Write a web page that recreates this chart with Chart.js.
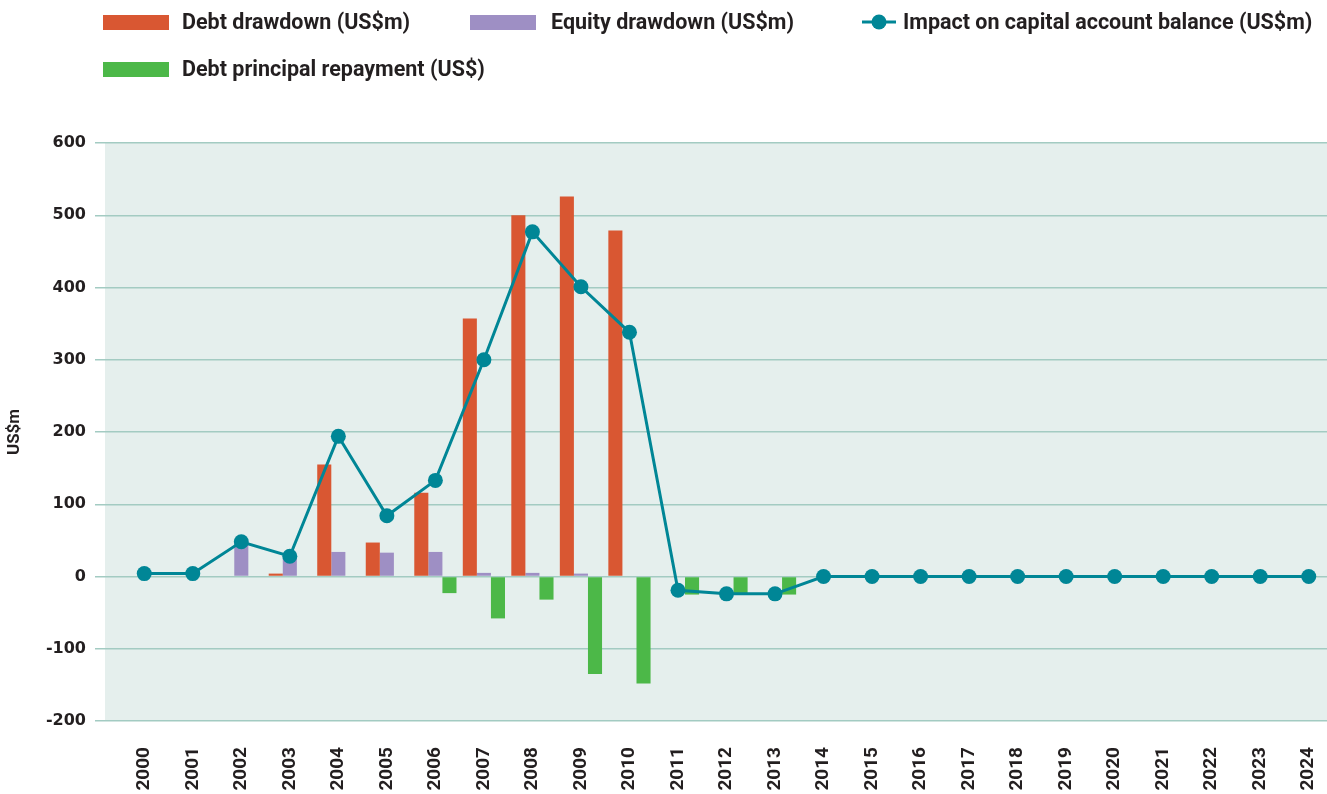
<!DOCTYPE html>
<html lang="en">
<head>
  <meta charset="UTF-8" />
  <title>Capital account impact</title>
  <script src="https://cdn.jsdelivr.net/npm/chart.js"></script>
  <style>
    html, body {
      margin: 0;
      padding: 0;
      overflow: hidden;
      background: #ffffff;
    }
    .wrap {
      position: relative;
      width: 1334px;
      height: 794px;
    }
    canvas {
      position: absolute;
      left: 0;
      top: 0;
    }
    .legend-item {
      position: absolute;
      font-family: Roboto, "Open Sans", sans-serif;
      font-weight: bold;
      font-size: 21.5px;
      color: #231f20;
      line-height: 24px;
      white-space: nowrap;
    }
    .swatch {
      position: absolute;
      width: 66px;
      height: 15px;
    }
  </style>
</head>
<body>
  <div class="wrap">
    <canvas id="capitalChart" width="1334" height="794"></canvas>

    <div class="swatch" style="left:103px; top:15px; background:#d95732;"></div>
    <div class="legend-item" style="left:182px; top:10px;">Debt drawdown (US$m)</div>

    <div class="swatch" style="left:470px; top:15px; background:#9e8fc4;"></div>
    <div class="legend-item" style="left:551px; top:10px;">Equity drawdown (US$m)</div>

    <svg style="position:absolute; left:861px; top:12px;" width="36" height="20">
      <line x1="1" y1="10" x2="35" y2="10" stroke="#008696" stroke-width="3" />
      <circle cx="18" cy="10" r="7.5" fill="#008696" />
    </svg>
    <div class="legend-item" style="left:903px; top:10px;">Impact on capital account balance (US$m)</div>

    <div class="swatch" style="left:103px; top:62px; background:#4cb848;"></div>
    <div class="legend-item" style="left:182px; top:57px;">Debt principal repayment (US$)</div>
  </div>

  <script>
    const years = ['2000', '2001', '2002', '2003', '2004', '2005', '2006', '2007', '2008', '2009', '2010', '2011', '2012',
                   '2013', '2014', '2015', '2016', '2017', '2018', '2019', '2020', '2021', '2022', '2023', '2024'];
    const debtDrawdown   = [0, 0, 0, 4, 155, 47, 116, 357, 500, 526, 479, 0, 0, 0, 0, 0, 0, 0, 0, 0, 0, 0, 0, 0, 0];
    const equityDrawdown = [0, 0, 47, 26, 34, 33, 34, 5, 5, 4, 0, 0, 0, 0, 0, 0, 0, 0, 0, 0, 0, 0, 0, 0, 0];
    const debtRepayment  = [0, 0, 0, 0, 0, 0, -23, -58, -32, -135, -148, -25, -25, -25, 0, 0, 0, 0, 0, 0, 0, 0, 0, 0, 0];
    const capitalImpact  = [4, 4, 48, 28, 194, 84, 133, 300, 477, 401, 338, -19, -24, -24, 0, 0, 0, 0, 0, 0, 0, 0, 0, 0, 0];
    const yTicks = [-200, -100, 0, 100, 200, 300, 400, 500, 600];

    // shaded plot area, starts a bit left of the chart area like the original
    const plotBg = {
      id: 'plotBg',
      beforeDraw(chart) {
        const { ctx, chartArea: a } = chart;
        ctx.save();
        ctx.fillStyle = '#e5efed';
        ctx.fillRect(a.left - 15, a.top, a.right - a.left + 15, a.bottom - a.top);
        ctx.restore();
      }
    };

    const ctx = document.getElementById('capitalChart').getContext('2d');
    const chart = new Chart(ctx, {
      type: 'bar',
      data: {
        labels: years,
        datasets: [
          {
            type: 'line',
            label: 'Impact on capital account balance (US$m)',
            data: capitalImpact,
            borderColor: '#008696',
            backgroundColor: '#008696',
            borderWidth: 3,
            pointRadius: 7.5,
            pointBackgroundColor: '#008696',
            pointBorderWidth: 0,
            tension: 0,
            order: 0
          },
          {
            label: 'Debt drawdown (US$m)',
            data: debtDrawdown,
            backgroundColor: '#d95732',
            order: 1
          },
          {
            label: 'Equity drawdown (US$m)',
            data: equityDrawdown,
            backgroundColor: '#9e8fc4',
            order: 1
          },
          {
            label: 'Debt principal repayment (US$)',
            data: debtRepayment,
            backgroundColor: '#4cb848',
            order: 1
          }
        ]
      },
      options: {
        responsive: false,
        animation: false,
        devicePixelRatio: 1,
        layout: { autoPadding: false, padding: { top: 143, right: 1 } },
        datasets: {
          bar: { categoryPercentage: 0.87, barPercentage: 1.0 }
        },
        plugins: {
          legend: { display: false },
          tooltip: { enabled: false }
        },
        scales: {
          x: {
            grid: { display: false, drawTicks: false },
            border: { display: false },
            ticks: {
              minRotation: 90,
              maxRotation: 90,
              autoSkip: false,
              padding: 26,
              color: '#231f20',
              font: { family: 'Roboto, sans-serif', weight: 'bold', size: 19 }
            },
            afterFit(scale) {
              scale.height = 73;
              scale.paddingLeft = 0;
              scale.paddingRight = 0;
            }
          },
          y: {
            min: -200,
            max: 600,
            afterBuildTicks(scale) { scale.ticks = yTicks.map(v => ({ value: v })); },
            grid: { color: '#a3cbc2', lineWidth: 1.5, tickLength: 25 },
            border: { display: false },
            ticks: {
              padding: 9,
              color: '#231f20',
              font: { family: '"DejaVu Sans", sans-serif', weight: 'bold', size: 16 }
            },
            title: {
              display: true,
              text: 'US$m',
              color: '#231f20',
              padding: { top: 5, bottom: 0 },
              font: { family: 'Roboto, sans-serif', weight: 'bold', size: 17 }
            },
            afterFit(scale) { scale.width = 120; }
          }
        }
      },
      plugins: [plotBg]
    });
  </script>
</body>
</html>
